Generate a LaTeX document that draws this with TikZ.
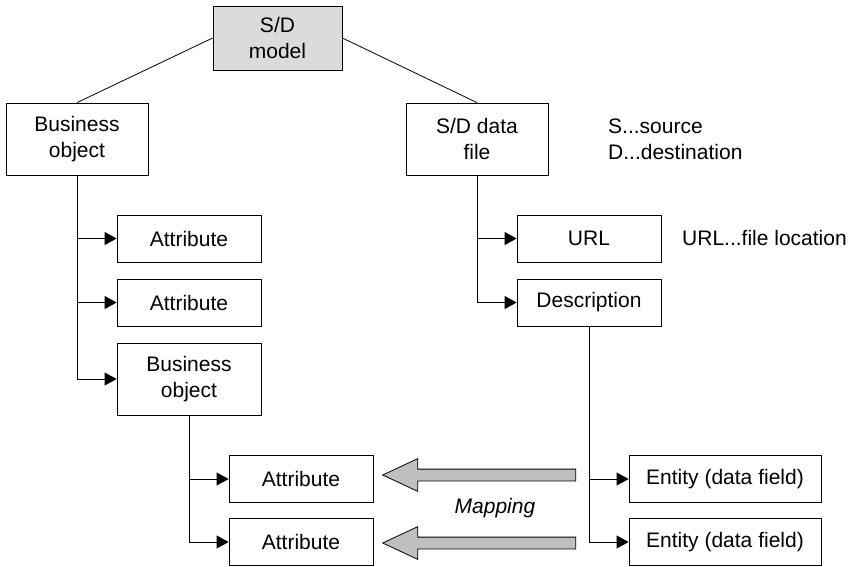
\documentclass[tikz,border=0pt]{standalone}
\usepackage{fontspec}
\setmainfont{Liberation Sans}
\usetikzlibrary{shapes,arrows.meta,positioning}

\tikzset{
  box/.style={draw, line width=0.8pt, minimum width=144pt, minimum height=47pt, inner sep=0pt, align=center},
  tall/.style={box, minimum height=72pt},
  key/.style={anchor=base west, inner sep=0pt},
  link/.style={line width=0.8pt},
  branch/.style={line width=0.8pt, -{Triangle[length=12pt,width=13pt]}},
  mapping/.style={single arrow, draw, line width=0.8pt, fill=black!25, minimum height=193pt,
    inner xsep=0pt, inner ysep=5.5pt, text height=0pt, text depth=0pt,
    single arrow head extend=10.5pt, single arrow tip angle=50, shape border rotate=180}
}

\begin{document}
\begin{tikzpicture}[x=1pt,y=-1pt,font=\fontsize{21}{26}\selectfont]
\path[use as bounding box, fill=white] (0,0) rectangle (855,566);

\node[box, fill=black!14, minimum width=129pt, minimum height=64pt] (model) at (277.5,38) {S/D\\model};
\node[tall, minimum width=142pt] (bo) at (77,139) {Business\\object};
\node[tall, minimum width=142pt] (file) at (477,139) {S/D data\\file};
\node[box] (attr1) at (189,238.5) {Attribute};
\node[box] (attr2) at (189,302.5) {Attribute};
\node[tall] (subbo) at (189,379) {Business\\object};
\node[box] (url) at (589,238.5) {URL};
\node[box] (desc) at (589,302.5) {Description};
\node[box] (attr3) at (301,479) {Attribute};
\node[box] (attr4) at (301,542) {Attribute};
\node[box, minimum width=192pt] (field1) at (725,479) {Entity (data field)};
\node[box, minimum width=192pt] (field2) at (725,542) {Entity (data field)};

\node[key] (srckey) at (608,133) {S...source};
\node[key] (dstkey) at (608,159) {D...destination};
\node[key] (urlkey) at (682,245) {URL...file location};
\node[anchor=base, inner sep=0pt, font=\fontsize{21}{26}\selectfont\itshape] (maplabel) at (495,513) {Mapping};

\draw[link] (model.west) -- (bo.north);
\draw[link] (model.east) -- (file.north);
\foreach \t in {attr1,attr2,subbo} \draw[branch] (bo.south) |- (\t.west);
\foreach \t in {url,desc} \draw[branch] (file.south) |- (\t.west);
\foreach \t in {attr3,attr4} \draw[branch] (subbo.south) |- (\t.west);
\foreach \t in {field1,field2} \draw[branch] (desc.south) |- (\t.west);

\node[mapping] (map1) at (485.5,475) {};
\node[mapping] (map2) at (485.5,543) {};
\end{tikzpicture}
\end{document}
